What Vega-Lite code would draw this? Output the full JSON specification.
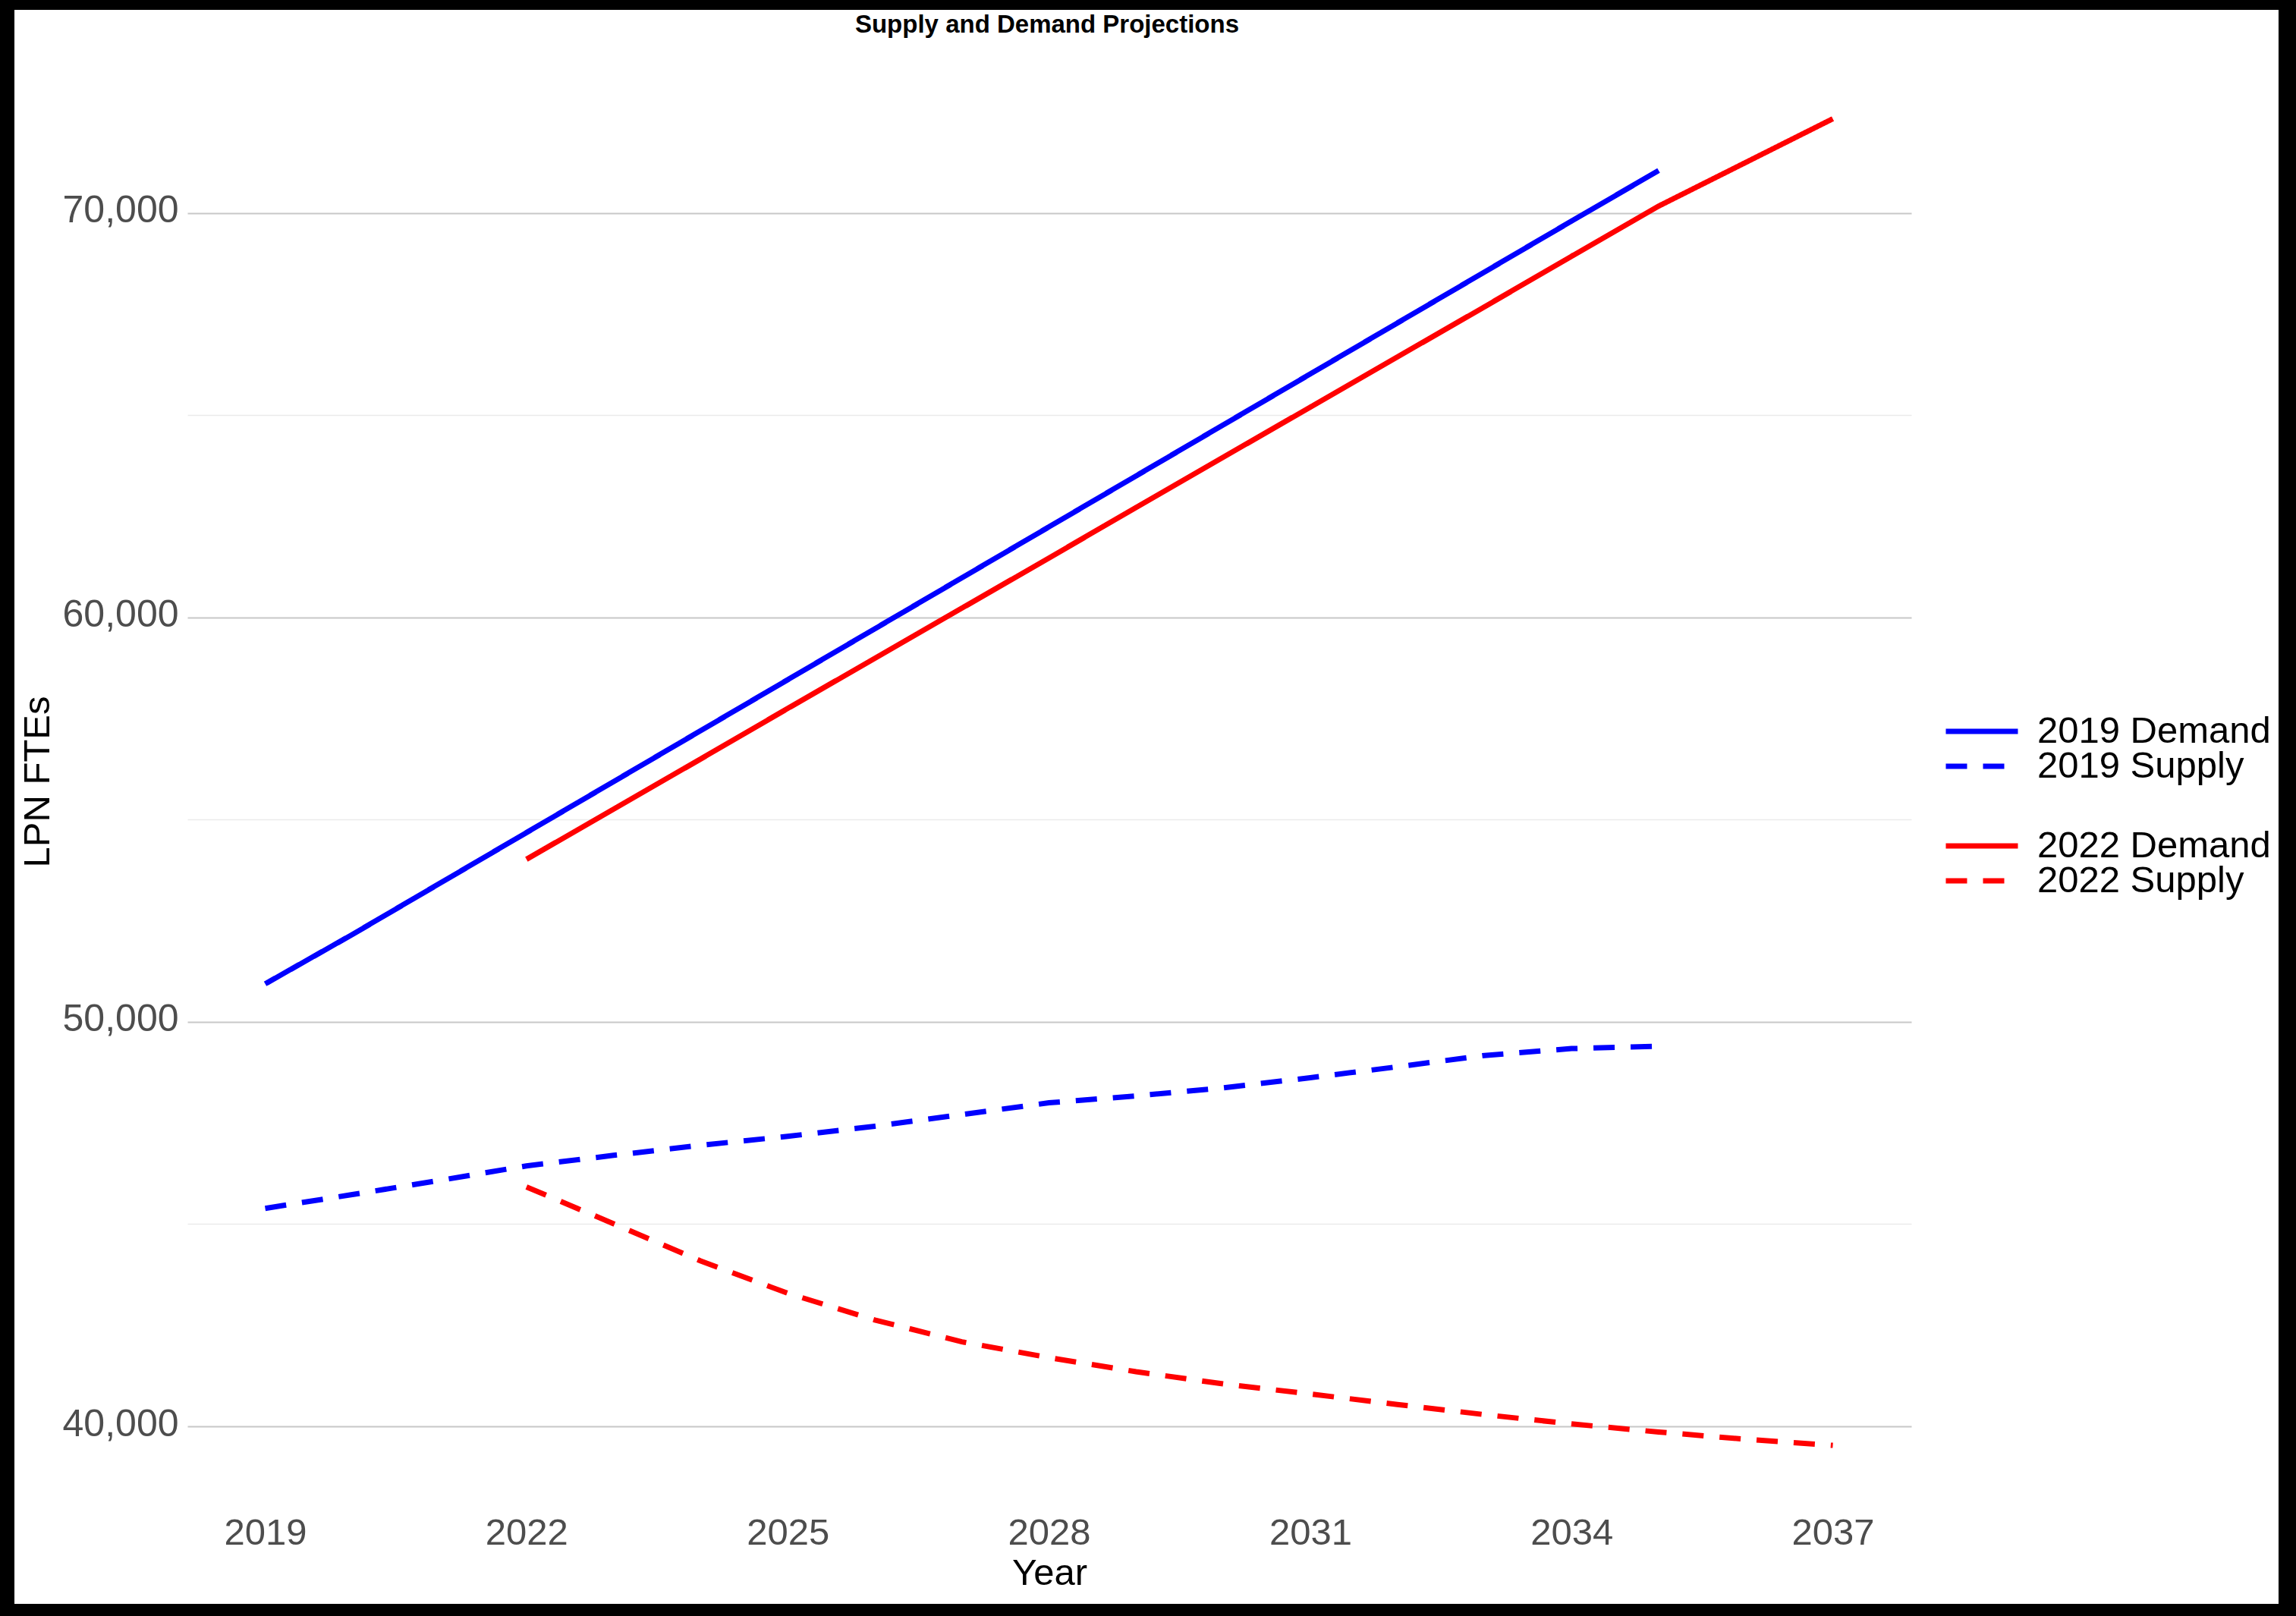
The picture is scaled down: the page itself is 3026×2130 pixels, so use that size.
{
  "$schema": "https://vega.github.io/schema/vega-lite/v6.json",
  "width": 3026,
  "height": 2130,
  "autosize": {"type": "fit", "contains": "padding"},
  "padding": {"left": 19, "top": 13, "right": 23, "bottom": 16},
  "background": "black",
  "config": {
    "view": {"fill": "white", "stroke": null},
    "font": "Liberation Sans",
    "legend": {"orient": "none", "title": null, "padding": 0, "labelFontSize": 49, "labelColor": "black", "labelFont": "Liberation Sans", "labelOffset": 22, "labelLimit": 0, "symbolType": "stroke", "symbolSize": 9025, "symbolStrokeWidth": 7}
  },
  "title": {
    "text": "Supply and Demand Projections",
    "fontSize": 33,
    "fontWeight": "bold",
    "color": "black",
    "font": "Liberation Sans",
    "anchor": "middle",
    "dx": -131,
    "offset": -63,
    "baseline": "alphabetic"
  },
  "data": {
    "values": [
      {"series": "2019 Demand", "year": 2019, "value": 50940},
      {"series": "2019 Demand", "year": 2020, "value": 52160},
      {"series": "2019 Demand", "year": 2021, "value": 53420},
      {"series": "2019 Demand", "year": 2022, "value": 54680},
      {"series": "2019 Demand", "year": 2023, "value": 55940},
      {"series": "2019 Demand", "year": 2024, "value": 57200},
      {"series": "2019 Demand", "year": 2025, "value": 58460},
      {"series": "2019 Demand", "year": 2026, "value": 59720},
      {"series": "2019 Demand", "year": 2027, "value": 60980},
      {"series": "2019 Demand", "year": 2028, "value": 62240},
      {"series": "2019 Demand", "year": 2029, "value": 63500},
      {"series": "2019 Demand", "year": 2030, "value": 64760},
      {"series": "2019 Demand", "year": 2031, "value": 66020},
      {"series": "2019 Demand", "year": 2032, "value": 67280},
      {"series": "2019 Demand", "year": 2033, "value": 68540},
      {"series": "2019 Demand", "year": 2034, "value": 69800},
      {"series": "2019 Demand", "year": 2035, "value": 71050},
      {"series": "2019 Supply", "year": 2019, "value": 45390},
      {"series": "2019 Supply", "year": 2020, "value": 45730},
      {"series": "2019 Supply", "year": 2021, "value": 46080},
      {"series": "2019 Supply", "year": 2022, "value": 46440},
      {"series": "2019 Supply", "year": 2023, "value": 46700},
      {"series": "2019 Supply", "year": 2024, "value": 46950},
      {"series": "2019 Supply", "year": 2025, "value": 47170},
      {"series": "2019 Supply", "year": 2026, "value": 47420},
      {"series": "2019 Supply", "year": 2027, "value": 47710},
      {"series": "2019 Supply", "year": 2028, "value": 48000},
      {"series": "2019 Supply", "year": 2029, "value": 48170},
      {"series": "2019 Supply", "year": 2030, "value": 48370},
      {"series": "2019 Supply", "year": 2031, "value": 48620},
      {"series": "2019 Supply", "year": 2032, "value": 48890},
      {"series": "2019 Supply", "year": 2033, "value": 49170},
      {"series": "2019 Supply", "year": 2034, "value": 49340},
      {"series": "2019 Supply", "year": 2035, "value": 49400},
      {"series": "2022 Demand", "year": 2022, "value": 54020},
      {"series": "2022 Demand", "year": 2023, "value": 55260},
      {"series": "2022 Demand", "year": 2024, "value": 56500},
      {"series": "2022 Demand", "year": 2025, "value": 57750},
      {"series": "2022 Demand", "year": 2026, "value": 58990},
      {"series": "2022 Demand", "year": 2027, "value": 60230},
      {"series": "2022 Demand", "year": 2028, "value": 61470},
      {"series": "2022 Demand", "year": 2029, "value": 62720},
      {"series": "2022 Demand", "year": 2030, "value": 63960},
      {"series": "2022 Demand", "year": 2031, "value": 65200},
      {"series": "2022 Demand", "year": 2032, "value": 66440},
      {"series": "2022 Demand", "year": 2033, "value": 67680},
      {"series": "2022 Demand", "year": 2034, "value": 68930},
      {"series": "2022 Demand", "year": 2035, "value": 70170},
      {"series": "2022 Demand", "year": 2036, "value": 71250},
      {"series": "2022 Demand", "year": 2037, "value": 72330},
      {"series": "2022 Supply", "year": 2022, "value": 45920},
      {"series": "2022 Supply", "year": 2023, "value": 45010},
      {"series": "2022 Supply", "year": 2024, "value": 44090},
      {"series": "2022 Supply", "year": 2025, "value": 43290},
      {"series": "2022 Supply", "year": 2026, "value": 42630},
      {"series": "2022 Supply", "year": 2027, "value": 42090},
      {"series": "2022 Supply", "year": 2028, "value": 41700},
      {"series": "2022 Supply", "year": 2029, "value": 41350},
      {"series": "2022 Supply", "year": 2030, "value": 41050},
      {"series": "2022 Supply", "year": 2031, "value": 40800},
      {"series": "2022 Supply", "year": 2032, "value": 40540},
      {"series": "2022 Supply", "year": 2033, "value": 40290},
      {"series": "2022 Supply", "year": 2034, "value": 40060},
      {"series": "2022 Supply", "year": 2035, "value": 39860},
      {"series": "2022 Supply", "year": 2036, "value": 39680},
      {"series": "2022 Supply", "year": 2037, "value": 39530}
    ]
  },
  "encoding": {
    "x": {
      "field": "year",
      "type": "quantitative",
      "scale": {"domain": [2016.1206, 2042.1176], "nice": false, "zero": false},
      "axis": {
        "orient": "bottom",
        "offset": -120,
        "values": [2019, 2022, 2025, 2028, 2031, 2034, 2037],
        "format": "d",
        "labelFontSize": 49,
        "labelColor": "#4d4d4d",
        "labelFont": "Liberation Sans",
        "labelPadding": 2,
        "labelFlush": false,
        "labelOverlap": false,
        "labelBound": false,
        "ticks": false,
        "tickSize": 0,
        "domain": false,
        "grid": false,
        "title": "Year",
        "titleFontSize": 49,
        "titleFontWeight": "normal",
        "titleColor": "black",
        "titleFont": "Liberation Sans",
        "titleX": 1364,
        "titleY": 94,
        "titleBaseline": "alphabetic"
      }
    },
    "y": {
      "field": "value",
      "type": "quantitative",
      "scale": {"domain": [35611, 75022], "nice": false, "zero": false},
      "axis": {
        "orient": "left",
        "offset": -2500,
        "values": [40000, 45000, 50000, 55000, 60000, 65000, 70000],
        "format": ",d",
        "labelExpr": "datum.value % 10000 === 0 ? datum.label : ''",
        "tickSize": 2272,
        "tickColor": {"condition": {"test": "datum.value % 10000 === 0", "value": "#c8c8c8"}, "value": "#ebebeb"},
        "tickWidth": {"condition": {"test": "datum.value % 10000 === 0", "value": 2.2}, "value": 1.5},
        "labelFontSize": 50,
        "labelColor": "#4d4d4d",
        "labelFont": "Liberation Sans",
        "labelPadding": 12,
        "labelOffset": -3,
        "labelFlush": false,
        "labelOverlap": false,
        "labelBound": false,
        "domain": false,
        "grid": false,
        "title": "LPN FTEs",
        "titleFontSize": 49,
        "titleFontWeight": "normal",
        "titleColor": "black",
        "titleFont": "Liberation Sans",
        "titleAngle": -90,
        "titleX": -2455,
        "titleY": 1017,
        "titleBaseline": "alphabetic",
        "titleAlign": "center"
      }
    }
  },
  "layer": [
    {
      "transform": [{"filter": "datum.series === '2019 Demand'"}],
      "mark": {"type": "line", "strokeWidth": 7, "strokeCap": "butt"},
      "encoding": {
        "color": {"field": "series", "type": "nominal", "scale": {"domain": ["2019 Demand"], "range": ["#0000ff"]}, "legend": {"legendX": 2542, "legendY": 900}},
        "strokeDash": {"field": "series", "type": "nominal", "scale": {"domain": ["2019 Demand"], "range": [[1, 0]]}, "legend": {"legendX": 2542, "legendY": 900}}
      }
    },
    {
      "transform": [{"filter": "datum.series === '2019 Supply'"}],
      "mark": {"type": "line", "strokeWidth": 7, "strokeCap": "butt"},
      "encoding": {
        "color": {"field": "series", "type": "nominal", "scale": {"domain": ["2019 Supply"], "range": ["#0000ff"]}, "legend": {"legendX": 2542, "legendY": 946}},
        "strokeDash": {"field": "series", "type": "nominal", "scale": {"domain": ["2019 Supply"], "range": [[28, 21]]}, "legend": {"legendX": 2542, "legendY": 946}}
      }
    },
    {
      "transform": [{"filter": "datum.series === '2022 Demand'"}],
      "mark": {"type": "line", "strokeWidth": 7, "strokeCap": "butt"},
      "encoding": {
        "color": {"field": "series", "type": "nominal", "scale": {"domain": ["2022 Demand"], "range": ["#ff0000"]}, "legend": {"legendX": 2542, "legendY": 1051}},
        "strokeDash": {"field": "series", "type": "nominal", "scale": {"domain": ["2022 Demand"], "range": [[1, 0]]}, "legend": {"legendX": 2542, "legendY": 1051}}
      }
    },
    {
      "transform": [{"filter": "datum.series === '2022 Supply'"}],
      "mark": {"type": "line", "strokeWidth": 7, "strokeCap": "butt"},
      "encoding": {
        "color": {"field": "series", "type": "nominal", "scale": {"domain": ["2022 Supply"], "range": ["#ff0000"]}, "legend": {"legendX": 2542, "legendY": 1097}},
        "strokeDash": {"field": "series", "type": "nominal", "scale": {"domain": ["2022 Supply"], "range": [[28, 21]]}, "legend": {"legendX": 2542, "legendY": 1097}}
      }
    }
  ],
  "resolve": {"scale": {"color": "independent", "strokeDash": "independent"}}
}
